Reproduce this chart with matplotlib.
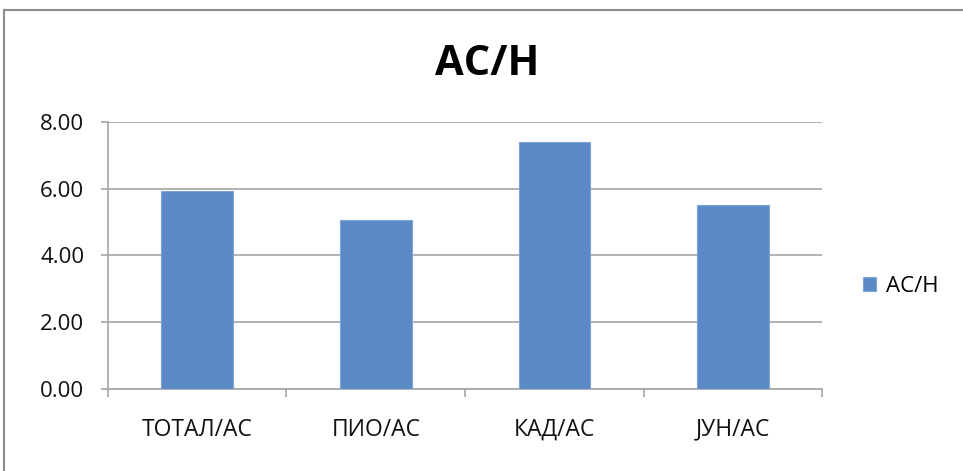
import matplotlib
matplotlib.use("Agg")
import matplotlib.pyplot as plt
from matplotlib.lines import Line2D
import numpy as np

plt.rcParams['font.family'] = ['Open Sans', 'DejaVu Sans']

categories = ["ТОТАЛ/АС", "ПИО/АС", "КАД/АС", "ЈУН/АС"]
values = [5.92, 5.06, 7.41, 5.52]
series_name = "АС/Н"
title = "АС/Н"
yticks = [0, 2, 4, 6, 8]

bar_color = "#5B8BC6"
grid_color = "#A6A6A6"

fig = plt.figure(figsize=(9.63, 4.71), dpi=100)
ax = fig.add_axes([0.112, 0.175, 0.742, 0.566])

x = np.arange(len(categories))
ax.bar(x, values, width=0.4, color=bar_color, edgecolor="#7FA3D3",
       linewidth=0.8, label=series_name, zorder=3)

ax.set_xlim(-0.5, len(categories) - 0.5)
ax.set_ylim(0, 8)
ax.set_yticks(yticks)
ax.set_yticklabels([f"{v:.2f}" for v in yticks], fontsize=16)
ax.yaxis.grid(True, color=grid_color, linewidth=1.2, zorder=0)
ax.set_xticks(x)
ax.set_xticklabels(categories, fontsize=16.5)
ax.set_xticks(np.arange(-0.5, len(categories)), minor=True)
ax.tick_params(axis='x', which='major', length=0, pad=21, colors='#111111')
ax.tick_params(axis='x', which='minor', length=6, width=1.2, color=grid_color)
ax.tick_params(axis='y', length=5, width=1.2, pad=12, colors='#111111')
ax.tick_params(axis='y', color=grid_color)

for side in ("top", "right"):
    ax.spines[side].set_visible(False)
for side in ("left", "bottom"):
    ax.spines[side].set_color(grid_color)
    ax.spines[side].set_linewidth(1.2)

fig.text(0.506, 0.862, title, ha='center', va='center', fontsize=30,
         fontweight='bold', color='#000000')

ax.legend(loc='center left', bbox_to_anchor=(1.029, 0.384), frameon=False,
          fontsize=16, handlelength=0.6, handleheight=0.6, handletextpad=0.45)

# outer chart frame
h = 471.0
w = 963.0
fig.add_artist(Line2D([3.5 / w, 1.0], [1 - 9.5 / h, 1 - 9.5 / h],
                      transform=fig.transFigure, color="#8C8C8C", linewidth=1.5))
fig.add_artist(Line2D([3.5 / w, 3.5 / w], [0.0, 1 - 9.5 / h],
                      transform=fig.transFigure, color="#8C8C8C", linewidth=1.5))

fig.savefig("out.png", dpi=100)
